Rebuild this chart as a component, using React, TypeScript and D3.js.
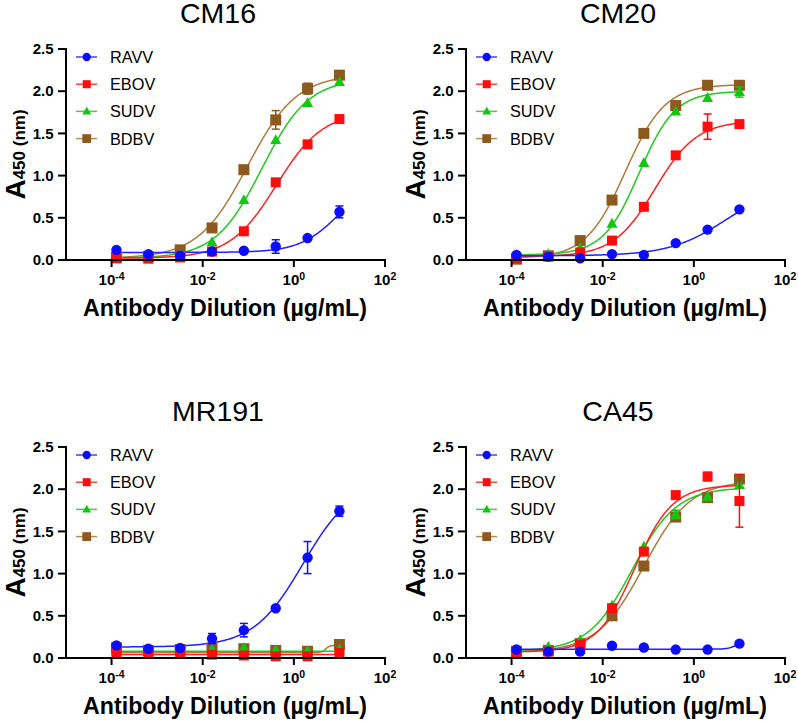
import React from 'react';
import * as d3 from 'd3';

// ---------- data ----------
const concentrations = [0.000128, 0.00064, 0.0032, 0.016, 0.08, 0.4, 2, 10];
const seriesNames = ['RAVV', 'EBOV', 'SUDV', 'BDBV'];
const markerColors = ['#0c0cff', '#ff0c0c', '#10c810', '#8c5a1e'];
const lineColors = ['#2020ff', '#ff2020', '#20c820', '#ad7a3c'];
const markerShapes = ['circle', 'square', 'triangle', 'bigsquare'];
const panelTitles = ['CM16', 'CM20', 'MR191', 'CA45'];
const xTickValues = [1e-4, 1e-2, 1, 1e2];
const xTickExponents = ['-4', '-2', '0', '2'];
const yTickValues = [0, 0.5, 1, 1.5, 2, 2.5];
const yTickLabels = ['0.0', '0.5', '1.0', '1.5', '2.0', '2.5'];

// means (rows: RAVV, EBOV, SUDV, BDBV), ascending concentration
const cm16Means = [
  [0.12, 0.07, 0.05, 0.10, 0.11, 0.16, 0.26, 0.57],
  [0.02, 0.016, 0.03, 0.10, 0.34, 0.92, 1.37, 1.67],
  [0.02, 0.03, 0.06, 0.21, 0.71, 1.42, 1.86, 2.11],
  [0.03, 0.04, 0.12, 0.38, 1.07, 1.66, 2.03, 2.19],
];
const cm16Errors = [
  [0, 0, 0, 0, 0, 0.08, 0, 0.07],
  [0, 0, 0, 0, 0, 0, 0, 0],
  [0, 0, 0, 0, 0, 0, 0, 0],
  [0, 0, 0, 0, 0, 0.11, 0.065, 0],
];
const cm20Means = [
  [0.06, 0.04, 0.02, 0.07, 0.06, 0.20, 0.36, 0.60],
  [0.02, 0.04, 0.09, 0.23, 0.63, 1.24, 1.58, 1.61],
  [0.06, 0.07, 0.14, 0.43, 1.15, 1.76, 1.92, 1.99],
  [0.01, 0.05, 0.23, 0.71, 1.50, 1.83, 2.07, 2.07],
];
const cm20Errors = [
  [0, 0, 0, 0, 0, 0, 0, 0],
  [0, 0, 0, 0, 0, 0, 0.15, 0],
  [0, 0, 0, 0, 0, 0, 0, 0.06],
  [0, 0, 0, 0, 0, 0, 0, 0],
];
const mr191Means = [
  [0.15, 0.11, 0.12, 0.23, 0.33, 0.59, 1.19, 1.74],
  [0.07, 0.05, 0.05, 0.04, 0.03, 0.02, 0.02, 0.06],
  [0.08, 0.08, 0.08, 0.10, 0.12, 0.09, 0.08, 0.10],
  [0.12, 0.09, 0.10, 0.12, 0.11, 0.09, 0.08, 0.16],
];
const mr191Errors = [
  [0, 0, 0, 0.06, 0.08, 0, 0.19, 0.06],
  [0, 0, 0, 0, 0, 0, 0, 0],
  [0, 0, 0, 0, 0, 0, 0, 0],
  [0, 0, 0, 0, 0, 0, 0, 0],
];
const ca45Means = [
  [0.10, 0.075, 0.075, 0.145, 0.125, 0.10, 0.10, 0.17],
  [0.07, 0.075, 0.16, 0.59, 1.26, 1.93, 2.15, 1.86],
  [0.09, 0.13, 0.21, 0.62, 1.32, 1.70, 1.91, 2.05],
  [0.08, 0.09, 0.17, 0.50, 1.09, 1.67, 1.90, 2.12],
];
const ca45Errors = [
  [0, 0, 0, 0, 0, 0, 0, 0],
  [0, 0, 0, 0, 0, 0, 0.05, 0.31],
  [0, 0, 0, 0, 0, 0.05, 0, 0],
  [0, 0, 0, 0, 0, 0, 0, 0],
];

// 4PL fit parameters per series: [bottom, top, logEC50, hill]
const cm16Fits = [[0.09, 1.0, 1.0, 1.0], [0.02, 1.76, -0.38, 0.85], [0.02, 2.15, -0.7, 0.85], [0.02, 2.2, -1.02, 0.8]];
const cm20Fits = [[0.05, 0.9, 0.7, 0.7], [0.04, 1.65, -0.85, 0.95], [0.06, 2.0, -1.2, 1.1], [0.02, 2.08, -1.5, 1.0]];
const mr191Fits = [[0.13, 2.1, 0.2, 0.8], [0.04, 0.04, 0, 1], [0.08, 0.08, 0, 1], [0.065, 0.15, 0.7, 10]];
const ca45Fits = [[0.105, 0.18, 0.9, 5], [0.07, 2.05, -1.3, 1.05], [0.08, 2.02, -1.35, 0.9], [0.07, 2.1, -1.1, 0.85]];

const panelMeans = [cm16Means, cm20Means, mr191Means, ca45Means];
const panelErrors = [cm16Errors, cm20Errors, mr191Errors, ca45Errors];
const panelFits = [cm16Fits, cm20Fits, mr191Fits, ca45Fits];

// ---------- layout ----------
const W = 798;
const H = 721;
const FONT = '"Liberation Sans", Arial, Helvetica, sans-serif';
const panelOffsets = [[0, 0], [400, 0], [0, 398], [400, 398]];
const PL = 66, PR = 385, PT = 49, PB = 260;

function fourPL(p: number[], lx: number) {
  const [b, t, c, h] = p;
  return b + (t - b) / (1 + Math.pow(10, (c - lx) * h));
}

function Marker({ shape, x, y, color, scale = 1 }: any) {
  if (shape === 'circle') return <circle cx={x} cy={y} r={5.2 * scale} fill={color} />;
  if (shape === 'square') {
    const s = 10 * scale;
    return <rect x={x - s / 2} y={y - s / 2} width={s} height={s} fill={color} />;
  }
  if (shape === 'bigsquare') {
    const s = 11 * scale;
    return <rect x={x - s / 2} y={y - s / 2} width={s} height={s} fill={color} />;
  }
  const s = 11 * scale;
  const hgt = s * 0.9;
  return (
    <path
      d={`M${x},${y - hgt * 0.6} L${x + s / 2},${y + hgt * 0.4} L${x - s / 2},${y + hgt * 0.4} Z`}
      fill={color}
    />
  );
}

function Panel({ idx }: { idx: number }) {
  const [ox, oy] = panelOffsets[idx];
  const x = d3.scaleLog().domain([1e-5, 1e2]).range([ox + PL, ox + PR]);
  const y = d3.scaleLinear().domain([0, 2.5]).range([oy + PB, oy + PT]);
  const means = panelMeans[idx];
  const errs = panelErrors[idx];
  const fits = panelFits[idx];
  const lo = Math.log10(concentrations[0]);
  const hi = Math.log10(concentrations[concentrations.length - 1]);
  const samples = d3.range(0, 301).map((i) => lo + ((hi - lo) * i) / 300);
  const order = [3, 2, 1, 0];
  return (
    <g>
      <text x={ox + 218} y={oy + 23} textAnchor="middle" fontSize={28.5} fontFamily={FONT} fill="#000">
        {panelTitles[idx]}
      </text>
      {/* curves */}
      {order.map((s) => {
        const gen = d3
          .line<number>()
          .x((lx) => x(Math.pow(10, lx)))
          .y((lx) => y(fourPL(fits[s], lx)));
        return <path key={'c' + s} d={gen(samples) || ''} fill="none" stroke={lineColors[s]} strokeWidth={1.5} />;
      })}
      {/* error bars + markers */}
      {order.map((s) => (
        <g key={'m' + s}>
          {concentrations.map((c, i) => {
            const e = errs[s][i];
            if (!e) return null;
            const cx = x(c);
            return (
              <g key={i} stroke={markerColors[s]} strokeWidth={1.5}>
                <line x1={cx} x2={cx} y1={y(means[s][i] - e)} y2={y(means[s][i] + e)} />
                <line x1={cx - 4} x2={cx + 4} y1={y(means[s][i] - e)} y2={y(means[s][i] - e)} />
                <line x1={cx - 4} x2={cx + 4} y1={y(means[s][i] + e)} y2={y(means[s][i] + e)} />
              </g>
            );
          })}
          {concentrations.map((c, i) => (
            <Marker key={i} shape={markerShapes[s]} x={x(c)} y={y(means[s][i])} color={markerColors[s]} />
          ))}
        </g>
      ))}
      {/* axes */}
      <line x1={ox + PL} x2={ox + PL} y1={oy + PT - 1} y2={oy + PB + 1} stroke="#000" strokeWidth={2} />
      <line x1={ox + PL - 1} x2={ox + PR + 1} y1={oy + PB} y2={oy + PB} stroke="#000" strokeWidth={2} />
      {yTickValues.map((v, i) => (
        <g key={'yt' + i}>
          <line x1={ox + PL - 8} x2={ox + PL} y1={y(v)} y2={y(v)} stroke="#000" strokeWidth={2} />
          <text
            x={ox + 53.5}
            y={y(v) + 5.2}
            textAnchor="end"
            fontSize={15}
            fontWeight="bold"
            fontFamily={FONT}
            fill="#000"
          >
            {yTickLabels[i]}
          </text>
        </g>
      ))}
      {xTickValues.map((v, i) => (
        <g key={'xt' + i}>
          <line x1={x(v)} x2={x(v)} y1={oy + PB} y2={oy + PB + 7} stroke="#000" strokeWidth={2} />
          <text x={x(v)} y={oy + 285} textAnchor="middle" fontWeight="bold" fontFamily={FONT} fill="#000">
            <tspan fontSize={15}>10</tspan>
            <tspan fontSize={10.5} dy={-5.5}>
              {xTickExponents[i]}
            </tspan>
          </text>
        </g>
      ))}
      <text
        x={ox + 225}
        y={oy + 316}
        textAnchor="middle"
        fontSize={23.2}
        fontWeight="bold"
        fontFamily={FONT}
        fill="#000"
      >
        Antibody Dilution (µg/mL)
      </text>
      <text
        transform={`translate(${ox + 25},${oy + 154.5}) rotate(-90)`}
        textAnchor="middle"
        fontWeight="bold"
        fontFamily={FONT}
        fill="#000"
      >
        <tspan fontSize={28}>A</tspan>
        <tspan fontSize={17}>450 (nm)</tspan>
      </text>
      {/* legend */}
      {seriesNames.map((n, s) => {
        const ly = oy + 57 + s * 27.2;
        return (
          <g key={'lg' + s}>
            <line x1={ox + 76} x2={ox + 97} y1={ly} y2={ly} stroke={lineColors[s]} strokeWidth={1.5} opacity={0.85} />
            <Marker shape={markerShapes[s]} x={ox + 86.7} y={ly} color={markerColors[s]} scale={0.8} />
            <text x={ox + 110} y={ly + 6} fontSize={16.3} fontFamily={FONT} fill="#000">
              {n}
            </text>
          </g>
        );
      })}
    </g>
  );
}

export default function App() {
  return (
    <svg
      width={W}
      height={H}
      viewBox={`0 0 ${W} ${H}`}
      style={{ position: 'absolute', left: 0, top: 0, background: '#fff' }}
    >
      <rect width={W} height={H} fill="#fff" />
      {[0, 1, 2, 3].map((i) => (
        <Panel key={i} idx={i} />
      ))}
    </svg>
  );
}
